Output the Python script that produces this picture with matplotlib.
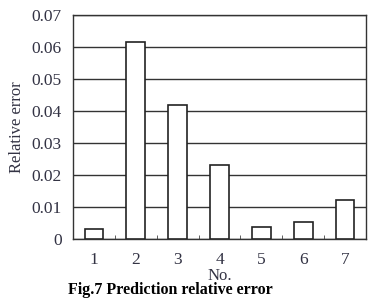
import numpy as np
import matplotlib.pyplot as plt

samples = [1, 2, 3, 4, 5, 6, 7]
rel_error = [0.003, 0.0615, 0.042, 0.0232, 0.0037, 0.0053, 0.0122]
yticks = [0, 0.01, 0.02, 0.03, 0.04, 0.05, 0.06, 0.07]
ytick_labels = ["0", "0.01", "0.02", "0.03", "0.04", "0.05", "0.06", "0.07"]

plt.rcParams['font.family'] = ['Liberation Serif', 'DejaVu Serif']

fig = plt.figure(figsize=(3.72, 3.0), dpi=100)
ax = fig.add_axes([73/372, 1 - 239/300, (366-73)/372, (239-15)/300])

ax.bar(samples, rel_error, width=0.45, color='white', edgecolor='#222222',
       linewidth=1.2, zorder=3)

ax.set_xlim(0.5, 7.5)
ax.set_ylim(0, 0.07)
ax.set_yticks(yticks)
ax.set_yticklabels(ytick_labels)
ax.set_xticks(samples)
ax.set_xticks(np.arange(1.5, 7.5, 1), minor=True)
ax.tick_params(axis='y', length=0, pad=8, labelsize=12.5, labelcolor='#333344')
ax.tick_params(axis='x', which='major', length=0, pad=9, labelsize=12.5, labelcolor='#333344')
ax.tick_params(axis='x', which='minor', direction='in', length=3, color='#444444')
ax.yaxis.grid(True, color='#333333', linewidth=1.0, zorder=0)
ax.set_axisbelow(True)
for s in ax.spines.values():
    s.set_color('#333333')
    s.set_linewidth(1.0)

ax.set_ylabel("Relative error", fontsize=12, color='#333344', labelpad=5)
ax.set_xlabel("No.", fontsize=12, color='#333344', labelpad=0)

fig.text(68/372, 2/300, "Fig.7 Prediction relative error", fontsize=11.5,
         fontweight='bold', va='bottom', ha='left')

fig.savefig("out.png", dpi=100)
